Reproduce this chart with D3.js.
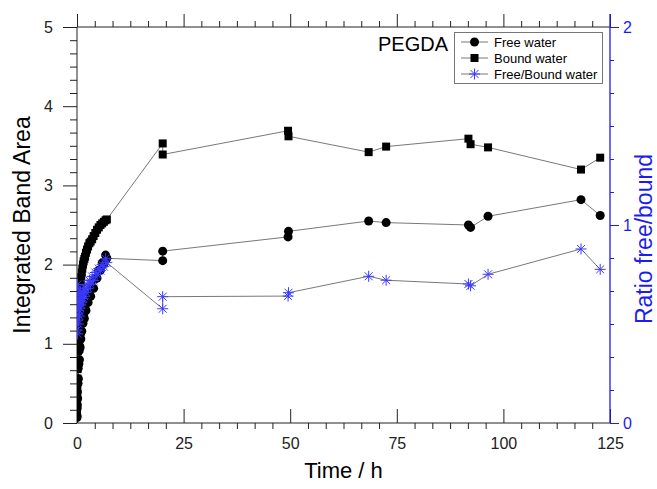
<!DOCTYPE html>
<html><head><meta charset="utf-8">
<script src="https://cdn.jsdelivr.net/npm/d3@7"></script>
<style>html,body{margin:0;padding:0;background:#fff;}svg{display:block;font-family:"Liberation Sans",Arial,sans-serif;}</style>
</head><body><svg id="c" width="657" height="489"></svg>
<script>
// ---- data ----
const timeH = [0, 0.02, 0.05, 0.08, 0.11, 0.15, 0.19, 0.23, 0.28, 0.33, 0.38, 0.44, 0.5, 0.57, 0.64, 0.72, 0.8, 0.9, 1.0, 1.12, 1.25, 1.4, 1.55, 1.72, 1.9, 2.1, 2.35, 2.6, 2.9, 3.2, 3.55, 3.9, 4.3, 4.7, 5.1, 5.5, 5.9, 6.3, 6.7, 7.0,
  20.1, 20.1, 49.5, 49.6, 68.4, 72.5, 91.8, 92.3, 96.4, 118.2, 122.7];
const boundWater = [0.10, 0.20, 0.32, 0.44, 0.56, 0.68, 0.80, 0.91, 1.02, 1.12, 1.22, 1.31, 1.40, 1.48, 1.56, 1.63, 1.70, 1.77, 1.84, 1.90, 1.95, 2.00, 2.04, 2.07, 2.10, 2.15, 2.19, 2.23, 2.27, 2.29, 2.32, 2.36, 2.40, 2.44, 2.47, 2.50, 2.52, 2.54, 2.56, 2.57,
  3.53, 3.39, 3.69, 3.62, 3.42, 3.49, 3.59, 3.52, 3.48, 3.20, 3.35];
const freeWater = [0.07, 0.09, 0.19, 0.23, 0.39, 0.31, 0.50, 0.50, 0.69, 0.56, 0.74, 0.75, 0.91, 0.80, 0.97, 0.95, 1.12, 1.06, 1.16, 1.16, 1.29, 1.26, 1.37, 1.32, 1.43, 1.42, 1.53, 1.52, 1.63, 1.60, 1.72, 1.70, 1.82, 1.83, 1.93, 1.93, 2.02, 2.01, 2.12, 2.08,
  2.05, 2.17, 2.35, 2.42, 2.55, 2.53, 2.50, 2.47, 2.61, 2.82, 2.62];
const ratioFreeBound = [0.66, 0.47, 0.60, 0.52, 0.70, 0.45, 0.63, 0.55, 0.68, 0.50, 0.61, 0.57, 0.65, 0.54, 0.62, 0.58, 0.66, 0.60, 0.63, 0.61, 0.66, 0.63, 0.67, 0.64, 0.68, 0.66, 0.70, 0.68, 0.72, 0.70, 0.74, 0.72, 0.76, 0.75, 0.78, 0.77, 0.80, 0.79, 0.83, 0.81,
  0.577, 0.638, 0.641, 0.658, 0.741, 0.721, 0.702, 0.693, 0.751, 0.879, 0.776];
const xTicks = [0, 25, 50, 75, 100, 125];
const yLeftTicks = [0, 1, 2, 3, 4, 5];
const yRightTicks = [0, 1, 2];
const legendLabels = ["Free water", "Bound water", "Free/Bound water"];
const sampleLabel = "PEGDA";

// ---- layout ----
const L = 77, R = 610, T = 27, B = 423;
const blue = "#1c1cf0", starBlue = "#3a3aff";
const svg = d3.select("#c");
const x = d3.scaleLinear().domain([0, 125]).range([L, R]);
const yL = d3.scaleLinear().domain([0, 5]).range([B, T]);
const yR = d3.scaleLinear().domain([0, 2]).range([B, T]);

function minors(ticks, n) {
  const out = [];
  for (let i = 0; i < ticks.length - 1; i++) {
    const s = (ticks[i + 1] - ticks[i]) / n;
    for (let k = 1; k < n; k++) out.push(ticks[i] + k * s);
  }
  return out;
}
const axisCol = "#222";
function styleAxis(g, col) {
  g.select(".domain").remove();
  g.selectAll("line").attr("stroke", col).attr("stroke-width", 1);
  g.selectAll("text").attr("fill", col).attr("font-size", 16).attr("font-family", '"Liberation Sans",Arial,sans-serif');
}
// bottom axis: minor ticks out, major ticks in
svg.append("g").attr("transform", `translate(0,${B})`)
  .call(d3.axisBottom(x).tickValues(minors(xTicks, 6)).tickSize(6).tickFormat(""))
  .call(g => styleAxis(g, axisCol));
svg.append("g").attr("transform", `translate(0,${B})`)
  .call(d3.axisBottom(x).tickValues(xTicks).tickSize(-14).tickPadding(15).tickFormat(d3.format("d")))
  .call(g => styleAxis(g, axisCol));
// top axis
svg.append("g").attr("transform", `translate(0,${T})`)
  .call(d3.axisTop(x).tickValues(minors(xTicks, 6)).tickSize(6).tickFormat(""))
  .call(g => styleAxis(g, axisCol));
svg.append("g").attr("transform", `translate(0,${T})`)
  .call(d3.axisTop(x).tickValues(xTicks).tickSize(13).tickFormat(""))
  .call(g => styleAxis(g, axisCol));
// left axis
svg.append("g").attr("transform", `translate(${L},0)`)
  .call(d3.axisLeft(yL).tickValues(minors(yLeftTicks, 6)).tickSize(7).tickFormat(""))
  .call(g => styleAxis(g, axisCol));
svg.append("g").attr("transform", `translate(${L},0)`)
  .call(d3.axisLeft(yL).tickValues(yLeftTicks).tickSize(14).tickPadding(10).tickFormat(d3.format("d")))
  .call(g => styleAxis(g, axisCol));
// axis lines
svg.append("line").attr("x1", L).attr("x2", R).attr("y1", B).attr("y2", B).attr("stroke", axisCol);
svg.append("line").attr("x1", L).attr("x2", R).attr("y1", T).attr("y2", T).attr("stroke", axisCol);
svg.append("line").attr("x1", L).attr("x2", L).attr("y1", T).attr("y2", B).attr("stroke", axisCol);
// right axis (blue)
svg.append("g").attr("transform", `translate(${R},0)`)
  .call(d3.axisRight(yR).tickValues(minors(yRightTicks, 6)).tickSize(4).tickFormat(""))
  .call(g => styleAxis(g, blue));
svg.append("g").attr("transform", `translate(${R},0)`)
  .call(d3.axisRight(yR).tickValues(yRightTicks).tickSize(9).tickPadding(4).tickFormat(d3.format("d")))
  .call(g => styleAxis(g, blue));
svg.append("line").attr("x1", R).attr("x2", R).attr("y1", T - 13).attr("y2", B).attr("stroke", blue).attr("stroke-width", 1.3);

// clip
svg.append("clipPath").attr("id", "pc").append("rect").attr("x", L).attr("y", T).attr("width", R - L).attr("height", B - T);
const plot = svg.append("g").attr("clip-path", "url(#pc)");

const idx = d3.range(timeH.length);
const lineCol = "#555";
function series(yScale, vals) {
  return d3.line().x(i => x(timeH[i])).y(i => yScale(vals[i]));
}
plot.append("path").attr("d", series(yL, boundWater)(idx)).attr("fill", "none").attr("stroke", lineCol).attr("stroke-width", 0.8);
plot.append("path").attr("d", series(yL, freeWater)(idx)).attr("fill", "none").attr("stroke", lineCol).attr("stroke-width", 0.8);
plot.append("path").attr("d", series(yR, ratioFreeBound)(idx)).attr("fill", "none").attr("stroke", lineCol).attr("stroke-width", 0.8);

const sq = 8;
plot.selectAll("rect.sq").data(idx).join("rect").attr("class", "sq")
  .attr("x", i => x(timeH[i]) - sq / 2).attr("y", i => yL(boundWater[i]) - sq / 2)
  .attr("width", sq).attr("height", sq).attr("fill", "#000");
plot.selectAll("circle.fw").data(idx).join("circle").attr("class", "fw")
  .attr("cx", i => x(timeH[i])).attr("cy", i => yL(freeWater[i])).attr("r", 4.5).attr("fill", "#000");

function star(g, cx, cy, r, col) {
  const p = d3.path();
  p.moveTo(cx - r, cy); p.lineTo(cx + r, cy);
  p.moveTo(cx, cy - r); p.lineTo(cx, cy + r);
  const d = r * 0.72;
  p.moveTo(cx - d, cy - d); p.lineTo(cx + d, cy + d);
  p.moveTo(cx - d, cy + d); p.lineTo(cx + d, cy - d);
  g.append("path").attr("d", p.toString()).attr("stroke", col).attr("stroke-width", 1).attr("fill", "none");
}
idx.forEach(i => star(plot, x(timeH[i]), yR(ratioFreeBound[i]), 5.5, starBlue));

// labels
svg.append("text").attr("transform", `translate(30,${(T + B) / 2}) rotate(-90)`).attr("text-anchor", "middle")
  .attr("font-size", 23).attr("fill", "#000").text("Integrated Band Area");
svg.append("text").attr("transform", `translate(652,${(T + B) / 2 + 14}) rotate(-90)`).attr("text-anchor", "middle")
  .attr("font-size", 23).attr("fill", blue).text("Ratio free/bound");
svg.append("text").attr("x", (L + R) / 2).attr("y", 478).attr("text-anchor", "middle")
  .attr("font-size", 22).attr("fill", "#000").text("Time / h");
svg.append("text").attr("x", 378).attr("y", 51).attr("font-size", 20).attr("fill", "#000").text(sampleLabel);

// legend
const lg = svg.append("g");
lg.append("rect").attr("x", 454.5).attr("y", 32.5).attr("width", 148).attr("height", 51).attr("fill", "#fff").attr("stroke", "#777");
legendLabels.forEach((t, k) => {
  const cy = 42 + k * 16;
  lg.append("line").attr("x1", 461).attr("x2", 488).attr("y1", cy).attr("y2", cy).attr("stroke", lineCol).attr("stroke-width", 0.8);
  if (k === 0) lg.append("circle").attr("cx", 474.5).attr("cy", cy).attr("r", 4.5).attr("fill", "#000");
  if (k === 1) lg.append("rect").attr("x", 470.5).attr("y", cy - 4).attr("width", 8).attr("height", 8).attr("fill", "#000");
  if (k === 2) star(lg, 474.5, cy, 5.5, starBlue);
  lg.append("text").attr("x", 494).attr("y", cy + 5).attr("font-size", 13).attr("fill", "#000").text(t);
});
</script></body></html>
